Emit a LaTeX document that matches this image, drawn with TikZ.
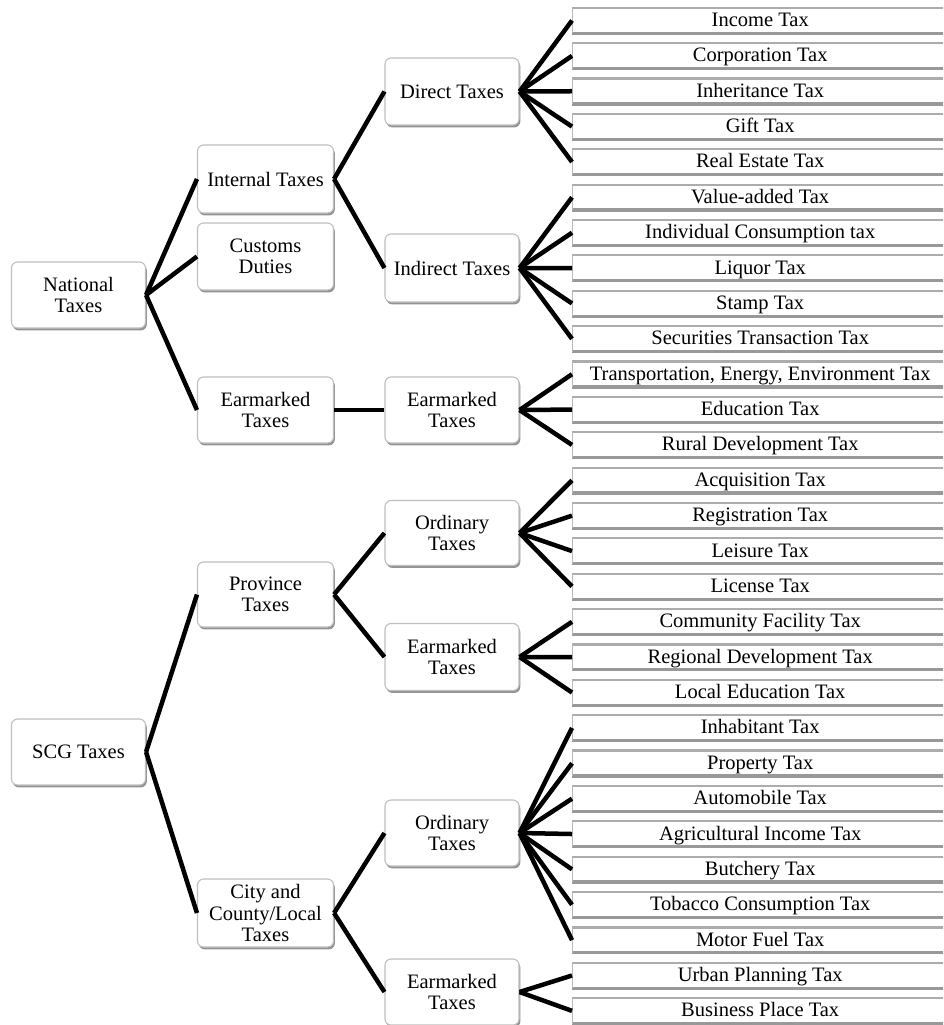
\documentclass[tikz,border=0pt]{standalone}
\usepackage{fontspec}
\setmainfont{Liberation Serif}
\usetikzlibrary{shadows}
\begin{document}
\begin{tikzpicture}[x=1pt,y=-1pt,
  box/.style={draw=gray!50, line width=1.1pt, rounded corners=6pt, fill=white,
    align=center, inner sep=0pt, font=\fontsize{20.5}{21.5}\selectfont,
    minimum width=134pt, minimum height=66pt,
    drop shadow={shadow xshift=1.3pt, shadow yshift=-2.4pt, fill=gray!85, opacity=1}},
  leaf/.style={minimum width=376pt, minimum height=25pt, inner sep=0pt, anchor=west,
    fill=white, font=\fontsize{20.5}{21.5}\selectfont, text height=16pt, text depth=4pt},
  leaftop/.style={draw=gray!65, line width=2.2pt},
  leafbot/.style={draw=gray!80, line width=3.2pt},
  leafleft/.style={draw=gray!55, line width=1pt},
  conn/.style={line width=4.5pt}]
\useasboundingbox (0,0) rectangle (943,1025);
\clip (0,0) rectangle (943,1025);

% level 1
\node[box] (NT) at (78.5,295) {National\\Taxes};
\node[box] (ST) at (78.5,752) {SCG Taxes};
% level 2
\node[box, minimum width=136pt, minimum height=68pt] (IT) at (265.5,179) {Internal Taxes};
\node[box, minimum width=136pt, minimum height=67pt] (CD) at (265.5,256.5) {Customs\\Duties};
\node[box, minimum width=136pt] (EK2) at (265.5,410) {Earmarked\\Taxes};
\node[box, minimum width=136pt, minimum height=65pt] (PT) at (265.5,594.5) {Province\\Taxes};
\node[box, minimum width=136pt, minimum height=68pt] (CC) at (265.5,913) {City and\\County/Local\\Taxes};
% level 3
\node[box, minimum height=67pt] (DT) at (452,91.5) {Direct Taxes};
\node[box, minimum height=68pt] (IDT) at (452,268) {Indirect Taxes};
\node[box] (EK3) at (452,410) {Earmarked\\Taxes};
\node[box, minimum height=65pt] (OT1) at (452,533) {Ordinary\\Taxes};
\node[box, minimum height=67pt] (EK4) at (452,657) {Earmarked\\Taxes};
\node[box] (OT2) at (452,833) {Ordinary\\Taxes};
\node[box] (EK5) at (452,992) {Earmarked\\Taxes};

% leaves
\foreach \t [count=\i from 0] in {Income Tax, Corporation Tax, Inheritance Tax, Gift Tax,
  Real Estate Tax, Value-added Tax, Individual Consumption tax, Liquor Tax, Stamp Tax,
  Securities Transaction Tax, {Transportation, Energy, Environment Tax}, Education Tax,
  Rural Development Tax, Acquisition Tax, Registration Tax, Leisure Tax, License Tax,
  Community Facility Tax, Regional Development Tax, Local Education Tax, Inhabitant Tax,
  Property Tax, Automobile Tax, Agricultural Income Tax, Butchery Tax,
  Tobacco Consumption Tax, Motor Fuel Tax, Urban Planning Tax, Business Place Tax} {
  \node[leaf] (L\i) at (572,{20.5+35.37*\i}) {\t};
  \draw[leaftop] (L\i.north west) -- (L\i.north east);
  \draw[leafbot] (L\i.south west) -- (L\i.south east);
  \draw[leafleft] (L\i.north west) -- (L\i.south west);
}

% connectors
\draw[conn] (NT.east) -- (IT.west);
\draw[conn] (NT.east) -- (CD.west);
\draw[conn] (NT.east) -- (EK2.west);
\draw[conn] (IT.east) -- (DT.west);
\draw[conn] (IT.east) -- (IDT.west);
\draw[conn] (EK2.east) -- (EK3.west);
\draw[conn] (ST.east) -- (PT.west);
\draw[conn] (ST.east) -- (CC.west);
\draw[conn] (PT.east) -- (OT1.west);
\draw[conn] (PT.east) -- (EK4.west);
\draw[conn] (CC.east) -- (OT2.west);
\draw[conn] (CC.east) -- (EK5.west);
\foreach \p/\a/\b in {DT/0/4, IDT/5/9, EK3/10/12, OT1/13/16, EK4/17/19, OT2/20/26, EK5/27/28} {
  \foreach \k in {\a,...,\b} {
    \draw[conn] (\p.east) -- (L\k.west);
  }
}
\end{tikzpicture}
\end{document}
